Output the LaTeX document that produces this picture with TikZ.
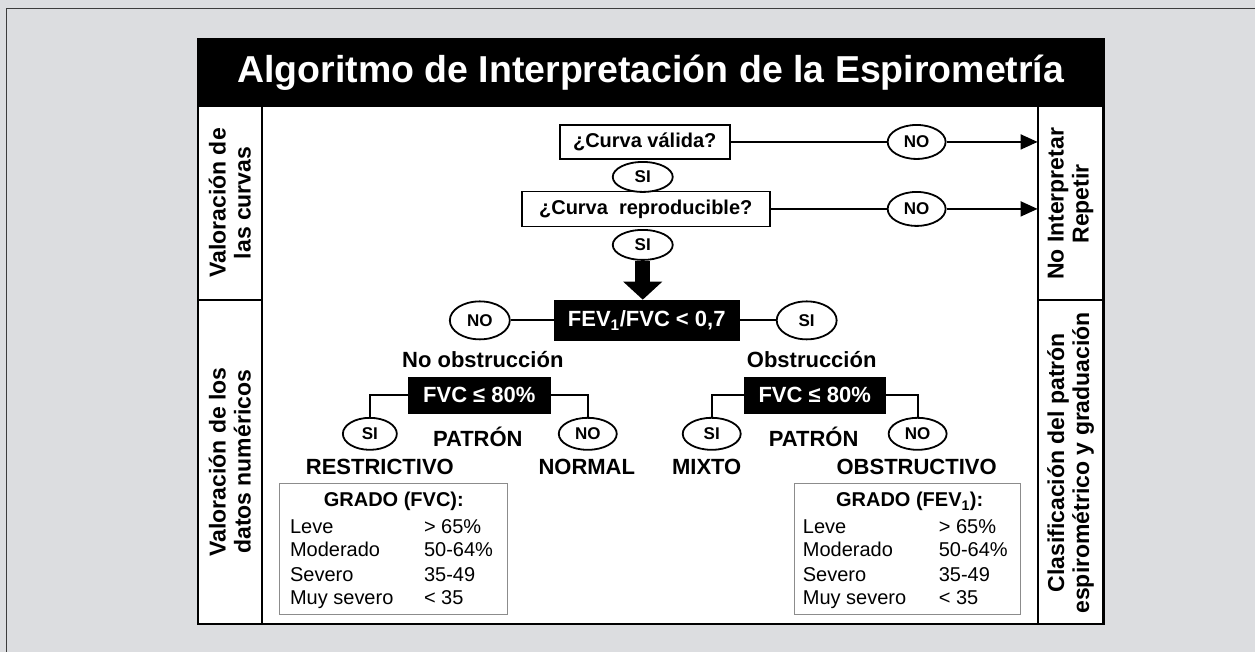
\documentclass[tikz,border=0pt]{standalone}
\usepackage{fontspec}
\setmainfont{Liberation Sans}
\usetikzlibrary{arrows.meta}
\usetikzlibrary{shapes.geometric}
\definecolor{bggray}{RGB}{220,221,224}
\definecolor{framegray}{RGB}{60,60,60}
\definecolor{boxgray}{RGB}{140,140,140}
\tikzset{
  qbox/.style={draw, line width=1.8pt, fill=white, inner sep=0pt, font=\bfseries\fontsize{20}{24}\selectfont},
  kbox/.style={fill=black, text=white, inner sep=0pt, font=\bfseries\fontsize{22}{26}\selectfont},
  ans/.style={ellipse, draw, line width=1.8pt, fill=white, inner sep=0pt, minimum width=58pt, minimum height=34pt, font=\bfseries\fontsize{17}{20}\selectfont},
  pat/.style={inner sep=0pt, font=\bfseries\fontsize{22}{26}\selectfont},
  side/.style={rotate=90, align=center, font=\bfseries\fontsize{23}{25}\selectfont},
  link/.style={line width=1.8pt},
  grade/.style={draw=boxgray, line width=1.2pt, fill=white, inner sep=0pt},
  glab/.style={anchor=base west, inner sep=0pt, font=\fontsize{20}{24}\selectfont},
}
\begin{document}
\begin{tikzpicture}[x=1pt, y=-1pt]
\fill[bggray] (0,0) rectangle (1255,652);
\draw[framegray, line width=1pt] (7,652) -- (7,9) -- (1255,9);
\fill[white] (198,39.5) rectangle (1104,624);
\fill[black] (198,39.5) rectangle (1104,107);
\node[text=white, font=\bfseries\fontsize{37.5}{42}\selectfont] (title) at (651,73) {Algoritmo de Interpretación de la Espirometría};
\draw[line width=2.5pt] (198,39.5) rectangle (1104,624);
\coordinate (colL) at (262,107);
\coordinate (colR) at (1038,107);
\draw[line width=2pt] (colL) -- ++(0,517) (colR) -- ++(0,517);
\draw[line width=2pt] (198,300) -- (colL |- 0,300) (colR |- 0,300) -- (1104,300);

\node[side] (curvas) at (230,203) {Valoración de\\las curvas};
\node[side] (datos) at (230,462) {Valoración de los\\datos numéricos};
\node[side] (repetir) at (1071,204) {No Interpretar\\Repetir};
\node[side] (clasif) at (1071,463) {Clasificación del patrón\\espirométrico y graduación};

\node[qbox, minimum width=170pt, minimum height=34pt] (valid) at (645,142) {¿Curva válida?};
\node[qbox, minimum width=248pt, minimum height=35pt] (repro) at (646,209) {¿Curva\ \ reproducible?};
\node[ans, minimum width=60pt, minimum height=30pt] (si1) at (643,177) {SI};
\node[ans, minimum width=60pt, minimum height=30pt] (si2) at (643,245) {SI};
\node[ans] (no1) at (917,142) {NO};
\node[ans] (no2) at (917,209) {NO};
\draw[link] (valid) -- (no1);
\draw[link] (repro) -- (no2);
\foreach \n in {no1, no2} \draw[link, -{Triangle[length=17pt, width=15pt]}] (\n) -- (\n -| colR);

\node[kbox, minimum width=186pt, minimum height=41pt] (fev) at (647,320.5) {FEV\textsubscript{1}/FVC < 0,7};
\draw[line width=15pt, -{Triangle[length=18pt, width=38pt]}] (si2.south) -- (si2.south |- fev.north);
\node[ans, minimum width=60pt, minimum height=38pt] (noF) at (480,320.5) {NO};
\node[ans, minimum width=60pt, minimum height=38pt] (siF) at (807,320.5) {SI};
\draw[link] (noF) -- (fev) (fev) -- (siF);

\node[pat] (nobs) at (483,360) {No obstrucción};
\node[pat] (obs) at (812,360) {Obstrucción};
\node[kbox, minimum width=143pt, minimum height=37pt] (fvcL) at (479.5,395.5) {FVC ≤ 80\%};
\node[kbox, minimum width=142pt, minimum height=37pt] (fvcR) at (815,395.5) {FVC ≤ 80\%};
\node[ans, minimum width=54pt, minimum height=32pt] (siL) at (370,434) {SI};
\node[ans, minimum width=58pt, minimum height=32pt] (noL) at (588,434) {NO};
\node[ans, minimum width=58pt, minimum height=32pt] (siR) at (712,434) {SI};
\node[ans, minimum width=58pt, minimum height=32pt] (noR) at (918,434) {NO};
\draw[link] (fvcL.west) -| (siL) (fvcL.east) -| (noL);
\draw[link] (fvcR.west) -| (siR) (fvcR.east) -| (noR);

\node[pat] (patL) at (478,437) {PATRÓN};
\node[pat] (patR) at (814,437) {PATRÓN};
\node[pat] (restr) at (380,467) {RESTRICTIVO};
\node[pat] (normal) at (587,467) {NORMAL};
\node[pat] (mixto) at (707,467) {MIXTO};
\node[pat] (obstr) at (917,467) {OBSTRUCTIVO};

\node[grade, minimum width=228pt, minimum height=131pt] (gradeL) at (394,549.5) {};
\node[grade, minimum width=226pt, minimum height=131pt] (gradeR) at (908,549.5) {};
\node[inner sep=0pt, font=\bfseries\fontsize{20}{24}\selectfont] (gtL) at (394,502) {GRADO (FVC):};
\node[inner sep=0pt, font=\bfseries\fontsize{20}{24}\selectfont] (gtR) at (910,502) {GRADO (FEV\textsubscript{1}):};
\foreach \lab/\val/\yy [count=\i] in {Leve/{> 65\%}/534, Moderado/{50-64\%}/557, Severo/{35-49}/582, {Muy severo}/{< 35}/605} {
  \node[glab] (lvL\i) at (290,\yy) {\lab};
  \node[glab] (vaL\i) at (424,\yy) {\val};
  \node[glab] (lvR\i) at (803,\yy) {\lab};
  \node[glab] (vaR\i) at (939,\yy) {\val};
}
\end{tikzpicture}
\end{document}
